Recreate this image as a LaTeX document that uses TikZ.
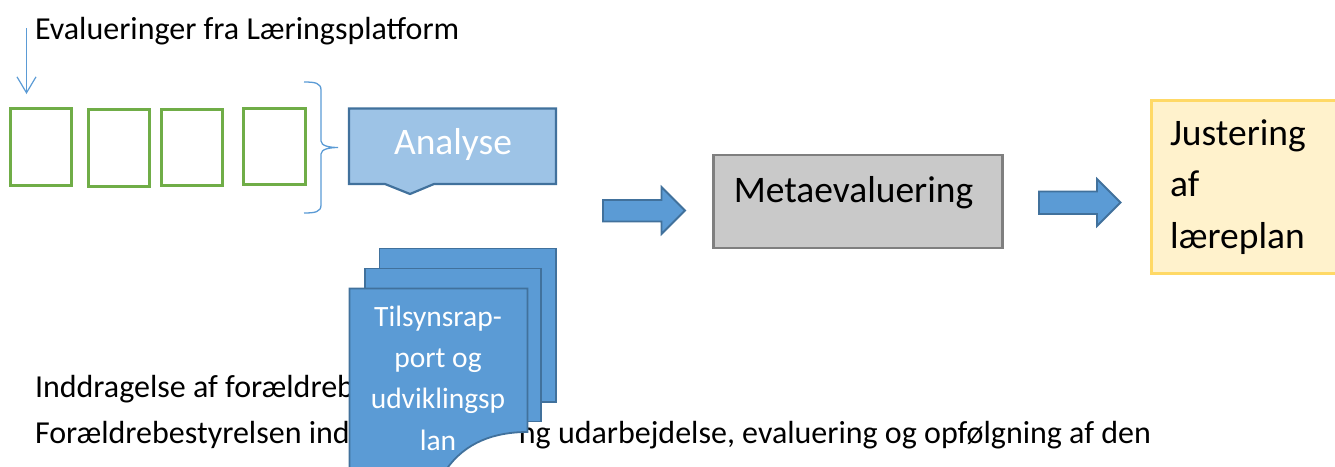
\documentclass[tikz,border=0pt]{standalone}
\usepackage{fontspec}
\setmainfont{Carlito}
\usetikzlibrary{arrows.meta}
\definecolor{grn}{HTML}{70AD47}
\definecolor{lblue}{HTML}{9DC3E6}
\definecolor{dblue}{HTML}{41719C}
\definecolor{mblue}{HTML}{5B9BD5}
\definecolor{gfill}{HTML}{C9C9C9}
\definecolor{gline}{HTML}{7F7F7F}
\definecolor{yfill}{HTML}{FFF2CC}
\definecolor{yline}{HTML}{FFD966}
\tikzset{
  evalbox/.style={draw=grn, line width=3pt},
  blockarrow/.style={fill=mblue, draw=dblue, line width=1.8pt, line join=miter},
  docpage/.style={fill=mblue, draw=dblue, line width=1.8pt},
  txt/.style={inner sep=0pt, outer sep=0pt},
  bodyfont/.style={font=\fontsize{32}{38}\selectfont},
  bigfont/.style={font=\fontsize{37.5}{45}\selectfont},
}
\begin{document}
\begin{tikzpicture}[x=1pt, y=-1pt]
\useasboundingbox (0,0) rectangle (1335,466);
\clip (0,0) rectangle (1335,466);

% title and small arrow
\node[txt, anchor=base west, bodyfont] (title) at (35,39.5) {Evalueringer fra Læringsplatform};
\coordinate (arrS) at (26.5,28);
\coordinate (arrE) at (26.5,94);
\draw[mblue, line width=1.2pt, -{Straight Barb[length=16pt,width=19pt]}] (arrS) -- (arrE);

% green boxes
\draw[evalbox] (10.5,108.5) rectangle (71,185);
\draw[evalbox] (88.5,109.5) rectangle (149,186);
\draw[evalbox] (161.5,109) rectangle (222,185.5);
\draw[evalbox] (243.5,108.5) rectangle (305,184.5);

% brace
\draw[mblue, line width=1.3pt] (304,82) .. controls (315,82) and (321,83) .. (321,90) -- (321,141)
  .. controls (321,146) and (330,147.5) .. (338,147.5)
  .. controls (330,147.5) and (321,149) .. (321,154) -- (321,205)
  .. controls (321,212) and (315,213) .. (304,213);

% Analyse
\draw[fill=lblue, draw=dblue, line width=2.2pt, line join=miter] (349,108.5) -- (556,108.5) -- (556,184) -- (434,184) -- (410,194) -- (385,184) -- (349,184) -- cycle;
\node[txt, anchor=base, text=white, bigfont] (analyse) at (453,154.5) {Analyse};

% block arrow 1
\draw[blockarrow] (603,200) -- (661.5,200) -- (661.5,187) -- (685,210.5) -- (661.5,234) -- (661.5,221.5) -- (603,221.5) -- cycle;

% Metaevaluering
\node[draw=gline, fill=gfill, line width=2.5pt, minimum width=289pt, minimum height=93pt, anchor=north west] (meta) at (712,153.5) {};
\node[txt, anchor=base, bigfont] (metatxt) at (853.5,202) {Metaevaluering};

% block arrow 2
\draw[blockarrow] (1039,191.5) -- (1097,191.5) -- (1097,179) -- (1120.5,202.5) -- (1097,226) -- (1097,214) -- (1039,214) -- cycle;

% Justering
\node[draw=yline, fill=yfill, line width=3pt, minimum width=200pt, minimum height=173pt, anchor=north west] (just) at (1149.5,98.5) {};
\node[txt, anchor=base west, align=left, font=\fontsize{37.5}{51.5}\selectfont] (justtxt) at (1170,248) {Justering\\af\\læreplan};

% bottom text
\node[txt, anchor=base west, bodyfont] (inddr) at (35,397) {Inddragelse af forældreb};
\node[txt, anchor=base west, bodyfont] (foraeld) at (35,443) {Forældrebestyrelsen ind};
\node[txt, anchor=base east, bodyfont] (udarb) at (1151,443) {ng udarbejdelse, evaluering og opfølgning af den};

% document stack
\draw[docpage] (379.5,248.5) rectangle (556,402);
\draw[docpage] (365,268.5) rectangle (541,421.5);
\draw[docpage] (349.5,288.5) -- (527.5,288.5) -- (527.5,432) .. controls (495,432) and (465,442) .. (446,470) -- (349.5,470) -- cycle;
\node[txt, anchor=base, align=center, text=white, font=\fontsize{29.5}{41.3}\selectfont] (doctxt) at (438,450) {Tilsynsrap-\\port og\\udviklingsp\\lan};
\end{tikzpicture}
\end{document}
